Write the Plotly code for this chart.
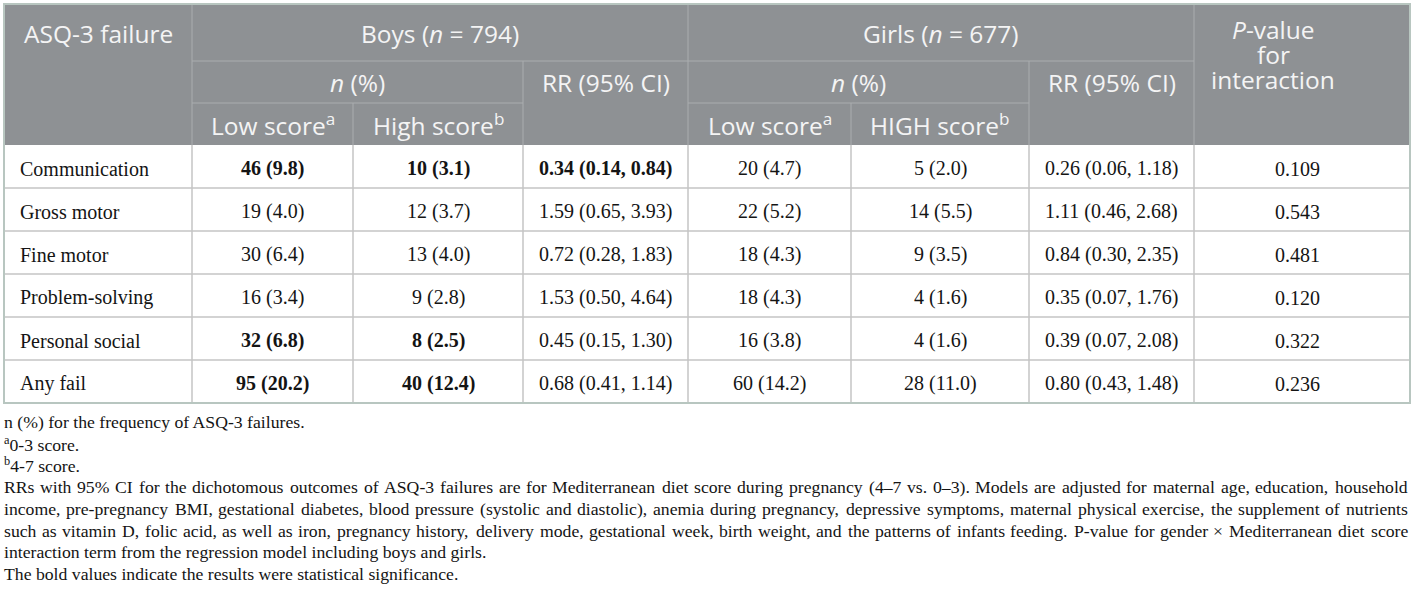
import plotly.graph_objects as go

# ---------------- data ----------------
outcomes = ["Communication", "Gross motor", "Fine motor", "Problem-solving",
            "Personal social", "Any fail"]
boys_total = 794
girls_total = 677
boys_low_n = [46, 19, 30, 16, 32, 95]
boys_low_pct = [9.8, 4.0, 6.4, 3.4, 6.8, 20.2]
boys_high_n = [10, 12, 13, 9, 8, 40]
boys_high_pct = [3.1, 3.7, 4.0, 2.8, 2.5, 12.4]
boys_rr = [0.34, 1.59, 0.72, 1.53, 0.45, 0.68]
boys_rr_lo = [0.14, 0.65, 0.28, 0.50, 0.15, 0.41]
boys_rr_hi = [0.84, 3.93, 1.83, 4.64, 1.30, 1.14]
girls_low_n = [20, 22, 18, 18, 16, 60]
girls_low_pct = [4.7, 5.2, 4.3, 4.3, 3.8, 14.2]
girls_high_n = [5, 14, 9, 4, 4, 28]
girls_high_pct = [2.0, 5.5, 3.5, 1.6, 1.6, 11.0]
girls_rr = [0.26, 1.11, 0.84, 0.35, 0.39, 0.80]
girls_rr_lo = [0.06, 0.46, 0.30, 0.07, 0.07, 0.43]
girls_rr_hi = [1.18, 2.68, 2.35, 1.76, 2.08, 1.48]
p_interaction = [0.109, 0.543, 0.481, 0.120, 0.322, 0.236]
boys_n_bold = [True, False, False, False, True, True]
boys_rr_bold = [True, False, False, False, False, False]

footnote_short = [
    "n (%) for the frequency of ASQ-3 failures.",
    "<sup>a</sup>0-3 score.",
    "<sup>b</sup>4-7 score.",
]
footnote_para = [
    "RRs with 95% CI for the dichotomous outcomes of ASQ-3 failures are for Mediterranean diet score during pregnancy (4–7 vs. 0–3). Models are adjusted for maternal age, education, household",
    "income, pre-pregnancy BMI, gestational diabetes, blood pressure (systolic and diastolic), anemia during pregnancy, depressive symptoms, maternal physical exercise, the supplement of nutrients",
    "such as vitamin D, folic acid, as well as iron, pregnancy history, delivery mode, gestational week, birth weight, and the patterns of infants feeding. P-value for gender × Mediterranean diet score",
    "interaction term from the regression model including boys and girls.",
]
footnote_last = "The bold values indicate the results were statistical significance."

# ---------------- layout constants ----------------
W, H = 1414, 609
col_edges = [4, 192, 353, 523, 688, 851, 1029, 1194, 1410]
hdr_rows = [4, 61, 103, 145]
row_h = 43
body_top = hdr_rows[-1]
body_bottom = body_top + row_h * len(outcomes)

HDR_BG = "#8e9194"
HDR_TXT = "#f4f4f4"
HDR_LINE = "#aaadaf"
BODY_LINE = "#c4c4c4"
BORDER = "#b8c6c0"
TXT = "#141414"
SANS = "Open Sans, sans-serif"
SERIF = "Liberation Serif, Times New Roman, serif"
HFS = 24.5
BFS = 20
FFS = 17.7

fig = go.Figure()
shapes = []
ann = []


def line(x0, y0, x1, y1, color, w):
    shapes.append(dict(type="line", xref="x", yref="y", x0=x0, y0=y0, x1=x1, y1=y1,
                       line=dict(color=color, width=w), layer="above"))


def text(x, y, s, family, size, color, xanchor="center"):
    ann.append(dict(x=x, y=y, xref="x", yref="y", text=s, showarrow=False,
                    xanchor=xanchor, yanchor="middle", borderpad=0, borderwidth=0,
                    font=dict(family=family, size=size, color=color)))


def cc(i):
    return (col_edges[i] + col_edges[i + 1]) / 2


# header background
shapes.append(dict(type="rect", xref="x", yref="y", x0=col_edges[0], y0=hdr_rows[0],
                   x1=col_edges[-1], y1=hdr_rows[-1], fillcolor=HDR_BG,
                   line=dict(width=0), layer="below"))

# header lines
for xi in (1, 4, 7):
    line(col_edges[xi], hdr_rows[0], col_edges[xi], hdr_rows[3], HDR_LINE, 1)
line(col_edges[1], hdr_rows[1], col_edges[7], hdr_rows[1], HDR_LINE, 1)
for xi in (3, 6):
    line(col_edges[xi], hdr_rows[1], col_edges[xi], hdr_rows[3], HDR_LINE, 1)
line(col_edges[1], hdr_rows[2], col_edges[3], hdr_rows[2], HDR_LINE, 1)
line(col_edges[4], hdr_rows[2], col_edges[6], hdr_rows[2], HDR_LINE, 1)
for xi in (2, 5):
    line(col_edges[xi], hdr_rows[2], col_edges[xi], hdr_rows[3], HDR_LINE, 1)

# body grid
for k in range(1, len(outcomes)):
    y = body_top + row_h * k
    line(col_edges[0], y, col_edges[-1], y, BODY_LINE, 1.5)
for xi in range(1, len(col_edges) - 1):
    line(col_edges[xi], body_top, col_edges[xi], body_bottom, BODY_LINE, 1.5)

# outer border
shapes.append(dict(type="rect", xref="x", yref="y", x0=col_edges[0], y0=hdr_rows[0],
                   x1=col_edges[-1], y1=body_bottom, line=dict(color=BORDER, width=2),
                   fillcolor="rgba(0,0,0,0)", layer="above"))

# header texts
r1 = (hdr_rows[0] + hdr_rows[1]) / 2 + 1
r2 = (hdr_rows[1] + hdr_rows[2]) / 2
r3 = (hdr_rows[2] + hdr_rows[3]) / 2
text(cc(0), r1, "ASQ-3 failure", SANS, HFS, HDR_TXT)
text((col_edges[1] + col_edges[4]) / 2, r1, f"Boys (<i>n</i> = {boys_total})", SANS, HFS, HDR_TXT)
text((col_edges[4] + col_edges[7]) / 2, r1, f"Girls (<i>n</i> = {girls_total})", SANS, HFS, HDR_TXT)
text((col_edges[1] + col_edges[3]) / 2, r2, "<i>n</i> (%)", SANS, HFS, HDR_TXT)
text((col_edges[4] + col_edges[6]) / 2, r2, "<i>n</i> (%)", SANS, HFS, HDR_TXT)
text(cc(3), r2, "RR (95% CI)", SANS, HFS, HDR_TXT)
text(cc(6), r2, "RR (95% CI)", SANS, HFS, HDR_TXT)
text(cc(1), r3, "Low score<sup>a</sup>", SANS, HFS, HDR_TXT)
text(cc(2), r3, "High score<sup>b</sup>", SANS, HFS, HDR_TXT)
text(cc(4), r3, "Low score<sup>a</sup>", SANS, HFS, HDR_TXT)
text(cc(5), r3, "HIGH score<sup>b</sup>", SANS, HFS, HDR_TXT)
px = cc(7) - 29
for yy, s in zip((29, 54, 79), ("<i>P</i>-value", "for", "interaction")):
    text(px, yy, s, SANS, HFS, HDR_TXT)


def npct(n, p, b):
    s = f"{n} ({p:.1f})"
    return f"<b>{s}</b>" if b else s


def rrs(r, lo, hi, b):
    s = f"{r:.2f} ({lo:.2f}, {hi:.2f})"
    return f"<b>{s}</b>" if b else s


for i, name in enumerate(outcomes):
    y = body_top + row_h * (i + 0.5) + 2
    text(col_edges[0] + 16, y, name, SERIF, BFS, TXT, xanchor="left")
    text(cc(1), y, npct(boys_low_n[i], boys_low_pct[i], boys_n_bold[i]), SERIF, BFS, TXT)
    text(cc(2), y, npct(boys_high_n[i], boys_high_pct[i], boys_n_bold[i]), SERIF, BFS, TXT)
    text(cc(3), y, rrs(boys_rr[i], boys_rr_lo[i], boys_rr_hi[i], boys_rr_bold[i]), SERIF, BFS, TXT)
    text(cc(4), y, npct(girls_low_n[i], girls_low_pct[i], False), SERIF, BFS, TXT)
    text(cc(5), y, npct(girls_high_n[i], girls_high_pct[i], False), SERIF, BFS, TXT)
    text(cc(6), y, rrs(girls_rr[i], girls_rr_lo[i], girls_rr_hi[i], False), SERIF, BFS, TXT)
    text(cc(7) - 5, y, f"{p_interaction[i]:.3f}", SERIF, BFS, TXT)

# ---------------- footnotes ----------------
TW = {' ': 250, '!': 333, '%': 833, '(': 333, ')': 333, ',': 250, '-': 333, '.': 250,
      '/': 278, ':': 278, ';': 278, '–': 500, '×': 564,
      'A': 722, 'B': 667, 'C': 667, 'D': 722, 'E': 611, 'F': 556, 'G': 722, 'H': 722,
      'I': 333, 'J': 389, 'K': 722, 'L': 611, 'M': 889, 'N': 722, 'O': 722, 'P': 556,
      'Q': 722, 'R': 667, 'S': 556, 'T': 611, 'U': 722, 'V': 722, 'W': 944, 'X': 722,
      'Y': 722, 'Z': 611,
      'a': 444, 'b': 500, 'c': 444, 'd': 500, 'e': 444, 'f': 333, 'g': 500, 'h': 500,
      'i': 278, 'j': 278, 'k': 500, 'l': 278, 'm': 778, 'n': 500, 'o': 500, 'p': 500,
      'q': 500, 'r': 333, 's': 389, 't': 278, 'u': 500, 'v': 500, 'w': 722, 'x': 500,
      'y': 500, 'z': 444}


def tw(s, size):
    return sum(TW.get(ch, 500) for ch in s) * size / 1000.0 * 1.01


fx0 = col_edges[0]
fx1 = col_edges[-1] - 2
fy = body_bottom + 19
lh = 21.7
for s in footnote_short:
    text(fx0, fy, s, SERIF, FFS, TXT, xanchor="left")
    fy += lh
for li, s in enumerate(footnote_para):
    words = s.split(" ")
    last = li == len(footnote_para) - 1
    if last:
        text(fx0, fy, s, SERIF, FFS, TXT, xanchor="left")
    else:
        total = sum(tw(w, FFS) for w in words)
        gap = (fx1 - fx0 - total) / (len(words) - 1)
        x = fx0
        for wi, w in enumerate(words):
            if wi == len(words) - 1:
                text(fx1, fy, w, SERIF, FFS, TXT, xanchor="right")
            else:
                text(x, fy, w, SERIF, FFS, TXT, xanchor="left")
            x += tw(w, FFS) + gap
    fy += lh
text(fx0, fy, footnote_last, SERIF, FFS, TXT, xanchor="left")

fig.update_layout(
    width=W, height=H, margin=dict(l=0, r=0, t=0, b=0),
    paper_bgcolor="white", plot_bgcolor="white",
    xaxis=dict(range=[0, W], visible=False, fixedrange=True),
    yaxis=dict(range=[H, 0], visible=False, fixedrange=True),
    shapes=shapes, annotations=ann, showlegend=False,
)

fig.write_html("out.html", config={"displayModeBar": False},
               post_script="document.body.style.margin='0';document.body.style.overflow='hidden';")
